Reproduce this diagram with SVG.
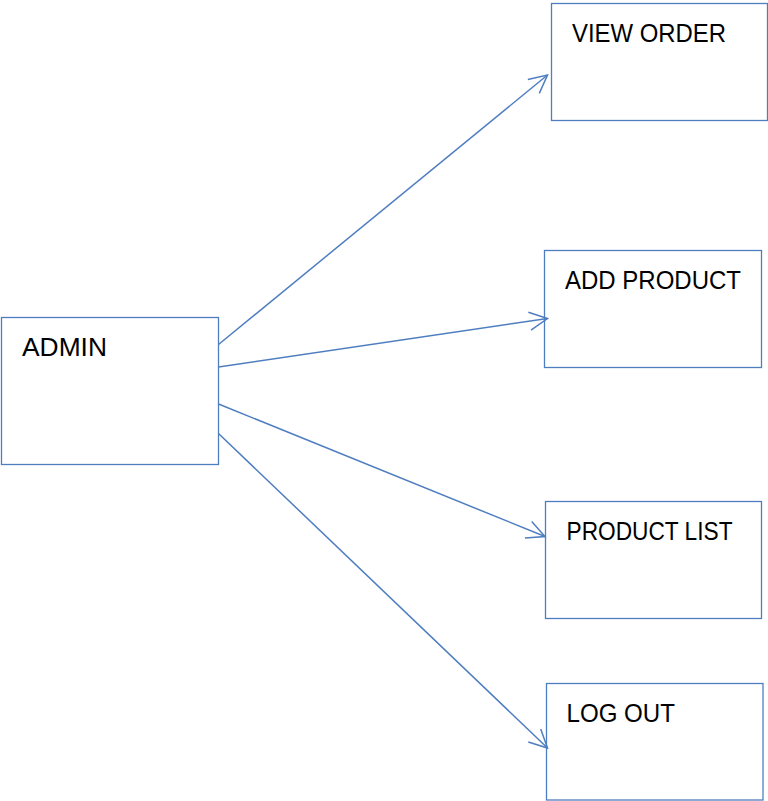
<svg xmlns="http://www.w3.org/2000/svg" width="768" height="801" viewBox="0 0 768 801">
<style>
.box{fill:#fff;stroke:#4F7EC0;stroke-width:1.3}
.lbl{font-family:"Liberation Sans",Arial,sans-serif;font-size:25px;fill:#000}
.con{stroke:#4F7EC0;stroke-width:1.5;fill:none}
</style>
<defs>
<marker id="arr" markerUnits="userSpaceOnUse" markerWidth="24" markerHeight="24" viewBox="-20 -12 24 24" refX="0" refY="0" orient="auto" overflow="visible">
<path d="M-18,-9 L0,0 L-18,9" fill="none" stroke="#4F7EC0" stroke-width="1.5"/>
</marker>
</defs>
<rect width="768" height="801" fill="#fff"/>
<g id="admin"><rect class="box" x="1.5" y="317.5" width="217" height="147"/><text class="lbl" x="22" y="355.5" textLength="85" lengthAdjust="spacingAndGlyphs">ADMIN</text></g>
<g id="view-order"><rect class="box" x="551.5" y="3.5" width="216" height="117"/><text class="lbl" x="572" y="41.5" textLength="154" lengthAdjust="spacingAndGlyphs">VIEW ORDER</text></g>
<g id="add-product"><rect class="box" x="544.5" y="250.5" width="217" height="117"/><text class="lbl" x="565" y="289" textLength="176" lengthAdjust="spacingAndGlyphs">ADD PRODUCT</text></g>
<g id="product-list"><rect class="box" x="545.5" y="501.5" width="216" height="117"/><text class="lbl" x="566.5" y="540" textLength="166" lengthAdjust="spacingAndGlyphs">PRODUCT LIST</text></g>
<g id="log-out"><rect class="box" x="546.5" y="683.5" width="216.5" height="116.5"/><text class="lbl" x="566.5" y="722" textLength="108.5" lengthAdjust="spacingAndGlyphs">LOG OUT</text></g>
<g id="connectors">
<line class="con" x1="218.5" y1="344.5" x2="547.5" y2="75" marker-end="url(#arr)"/>
<line class="con" x1="218.5" y1="367" x2="547.5" y2="318.5" marker-end="url(#arr)"/>
<line class="con" x1="218.5" y1="404" x2="545" y2="536.5" marker-end="url(#arr)"/>
<line class="con" x1="218.5" y1="433.5" x2="547.5" y2="748" marker-end="url(#arr)"/>
</g>
</svg>
